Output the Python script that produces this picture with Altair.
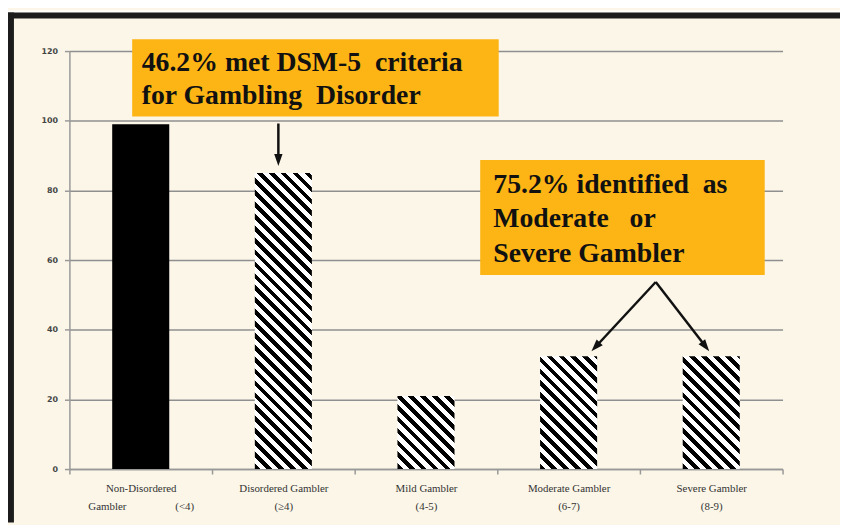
import math
import altair as alt
import pandas as pd

# ---------------- data ----------------
NB = "\u00a0"
categories = [
    "Non-Disordered" + NB * 9 + "|Gambler" + NB * 18 + "(<4)",
    "Disordered Gambler|(\u22654)",
    "Mild Gambler|(4-5)",
    "Moderate Gambler|(6-7)",
    "Severe Gambler|(8-9)",
]
values = [99, 85, 21, 32.4, 32.4]
hatched = [False, True, True, True, True]
y_ticks = [0, 20, 40, 60, 80, 100, 120]

# annotation boxes (x in category units 0..5, y in value units)
box_x = [0.44, 2.88]
box_x2 = [3.01, 4.875]
box_y = [123.4, 88.7]
box_y2 = [101.2, 55.7]

# annotation text lines (left x, baseline y)
text_lines = [
    "46.2% met DSM-5" + NB + NB + "criteria",
    "for Gambling" + NB + NB + "Disorder",
    "75.2% identified" + NB + NB + "as",
    "Moderate" + NB + NB + NB + "or",
    "Severe Gambler",
]
text_x = [0.507, 0.507, 2.972, 2.972, 2.972]
text_y = [114.3, 104.9, 79.3, 69.4, 59.4]

# arrows: tail -> tip
arrow_x = [1.465, 4.111, 4.111]
arrow_y = [99.2, 53.7, 53.7]
arrow_tip_x = [1.465, 3.66, 4.486]
arrow_tip_y = [87.0, 33.8, 33.8]

# ---------------- layout ----------------
W, H = 720, 422
YMAX = 120
PX_X = W / 5.0
PX_Y = H / YMAX
BAR_FRAC = 0.4
ORANGE = "#FDB515"
BG = "#FBF6E8"
GRID = "#8f8f8f"
SERIF = "Liberation Serif, Times New Roman, serif"


def hatch(h_px, w_px, period=8.5, duty=0.48):
    span = w_px + h_px
    a = span / (w_px ** 2 + h_px ** 2)
    dt = period * math.sqrt(2) / span
    stops = []
    k = 0
    while k * dt < 1:
        t0 = k * dt
        t1 = min(t0 + duty * dt, 1.0)
        t2 = min((k + 1) * dt, 1.0)
        stops += [(t0, "#000000"), (t1, "#000000"), (t1, "#ffffff"), (t2, "#ffffff")]
        k += 1
    return {
        "gradient": "linear",
        "x1": 0, "y1": 1, "x2": a * w_px, "y2": 1 - a * h_px,
        "stops": [{"offset": round(o, 6), "color": c} for o, c in stops],
    }


df = pd.DataFrame({"category": categories, "value": values})

x_enc = alt.X(
    "category:N",
    sort=categories,
    scale=alt.Scale(domain=categories, paddingInner=0, paddingOuter=0),
    axis=alt.Axis(
        title=None,
        labelExpr="split(datum.label, '|')",
        labelAngle=0,
        labelFont=SERIF,
        labelFontSize=11,
        labelColor="#333333",
        labelLineHeight=18,
        labelPadding=9,
        labelOverlap=False,
        tickBand="extent",
        tickSize=5,
        tickColor="#999999",
        tickWidth=1.5,
        domainColor="#999999",
        domainWidth=1.5,
        grid=False,
    ),
)
y_enc = alt.Y(
    "value:Q",
    scale=alt.Scale(domain=[0, YMAX], nice=False),
    axis=alt.Axis(
        title=None,
        values=y_ticks,
        labelFont="DejaVu Sans",
        labelFontSize=8,
        labelFontWeight="bold",
        labelColor="#444444",
        labelPadding=7,
        tickSize=5,
        tickColor="#999999",
        tickWidth=1.5,
        domainColor="#999999",
        domainWidth=1.5,
        grid=True,
        gridColor=GRID,
        gridWidth=1.5,
    ),
)

bar_layers = []
bar_w = BAR_FRAC * PX_X
for cat, v, hat in zip(categories, values, hatched):
    fill = hatch(v * PX_Y, bar_w) if hat else "#000000"
    bar_layers.append(
        alt.Chart(df)
        .transform_filter(alt.datum.category == cat)
        .mark_bar(fill=fill, width=alt.RelativeBandSize(BAR_FRAC), strokeWidth=0)
        .encode(x=x_enc, y=y_enc)
    )
bars = alt.layer(*bar_layers)

# ---------------- annotations ----------------
ax = alt.Scale(domain=[0, 5], nice=False, zero=False)
ay = alt.Scale(domain=[0, YMAX], nice=False)

frame_df = pd.DataFrame({"k": [0]})
frame_color = "#1c1c1c"
white_strip = alt.Chart(frame_df).mark_rect(color="#ffffff").encode(
    x=alt.value(-62), x2=alt.value(W + 58), y=alt.value(-41), y2=alt.value(-39))
top_border = alt.Chart(frame_df).mark_rect(color=frame_color).encode(
    x=alt.value(-62), x2=alt.value(W + 58), y=alt.value(-39), y2=alt.value(-33))
left_border = alt.Chart(frame_df).mark_rect(color=frame_color).encode(
    x=alt.value(-62), x2=alt.value(-56), y=alt.value(-39), y2=alt.value(H + 54))

boxes_df = pd.DataFrame({"x": box_x, "x2": box_x2, "y": box_y, "y2": box_y2})
boxes = alt.Chart(boxes_df).mark_rect(color=ORANGE).encode(
    x=alt.X("x:Q", scale=ax, axis=None), x2="x2:Q",
    y=alt.Y("y:Q", scale=ay, axis=None), y2="y2:Q")

text_df = pd.DataFrame({"x": text_x, "y": text_y, "t": text_lines})
texts = alt.Chart(text_df).mark_text(
    font=SERIF, fontWeight="bold", fontSize=28, color="#111111",
    align="left", baseline="alphabetic").encode(
    x=alt.X("x:Q", scale=ax, axis=None),
    y=alt.Y("y:Q", scale=ay, axis=None), text="t:N")

HEAD = 196
head_r = math.sqrt(HEAD) / 2
rx, ry, rx2, ry2, hx, hy, hang = [], [], [], [], [], [], []
for x0, y0, x1, y1 in zip(arrow_x, arrow_y, arrow_tip_x, arrow_tip_y):
    dxp = (x1 - x0) * PX_X
    dyp = -(y1 - y0) * PX_Y
    L = math.hypot(dxp, dyp)
    ux, uy = dxp / L, dyp / L
    cx = x1 - ux * head_r / PX_X
    cy = y1 + uy * head_r / PX_Y
    rx.append(x0); ry.append(y0); rx2.append(cx); ry2.append(cy)
    hx.append(cx); hy.append(cy)
    hang.append(math.degrees(math.atan2(dxp, -dyp)) % 360)

rules_df = pd.DataFrame({"x": rx, "y": ry, "x2": rx2, "y2": ry2})
rules = alt.Chart(rules_df).mark_rule(color="#111111", strokeWidth=2.5).encode(
    x=alt.X("x:Q", scale=ax, axis=None), x2="x2:Q",
    y=alt.Y("y:Q", scale=ay, axis=None), y2="y2:Q")

heads_df = pd.DataFrame({"x": hx, "y": hy, "a": hang})
heads = alt.Chart(heads_df).mark_point(
    shape="M0,-1L0.6,0.75L-0.6,0.75Z", filled=True, size=HEAD,
    color="#111111", opacity=1).encode(
    x=alt.X("x:Q", scale=ax, axis=None),
    y=alt.Y("y:Q", scale=ay, axis=None),
    angle=alt.Angle("a:Q", scale=None))

annotations = alt.layer(white_strip, top_border, left_border, boxes, texts, rules, heads)

chart = (
    alt.layer(bars, annotations)
    .resolve_scale(x="independent", y="independent")
    .properties(
        width=W, height=H,
        padding={"left": 62, "top": 41, "right": 58, "bottom": 54},
        autosize=alt.AutoSizeParams(type="none"),
        background=BG,
    )
    .configure_view(stroke=None)
)

chart.save("out.html", embed_options={"renderer": "svg", "actions": False})
